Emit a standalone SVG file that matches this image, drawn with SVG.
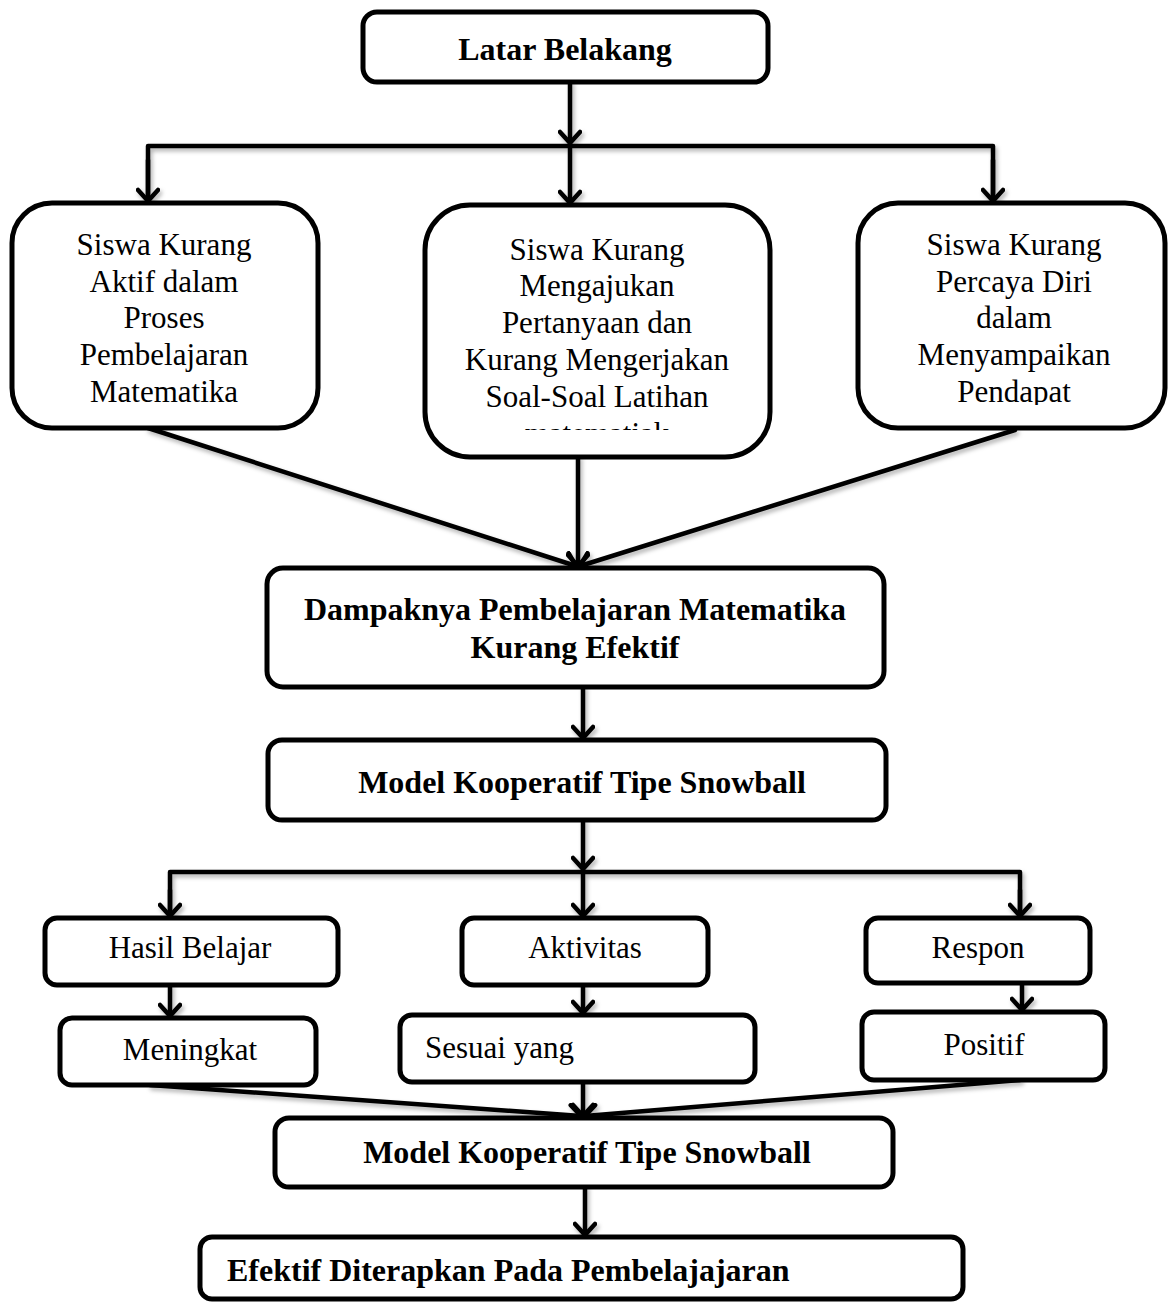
<svg xmlns="http://www.w3.org/2000/svg" width="1168" height="1302" viewBox="0 0 1168 1302">
<defs>
<style>
.box{fill:#fff;stroke:#000;stroke-width:5}
.t{font-family:"Liberation Serif","Times New Roman",serif;font-size:31px;fill:#000;text-anchor:middle}
.b{font-family:"Liberation Serif","Times New Roman",serif;font-size:32px;font-weight:bold;fill:#000;text-anchor:middle}
.s{text-anchor:start}
.c{fill:none;stroke:#000;stroke-width:4.5;stroke-linecap:round;stroke-linejoin:round}
</style>
<marker id="ah" viewBox="-14 -12 16 24" markerWidth="16" markerHeight="24" refX="0" refY="0" orient="auto" markerUnits="userSpaceOnUse">
<path d="M-11,-10 L0,0 L-11,10" fill="none" stroke="#000" stroke-width="4.5" stroke-linecap="round" stroke-linejoin="round"/>
</marker>
<filter id="sh" x="-5%" y="-5%" width="110%" height="110%">
<feDropShadow dx="2" dy="3" stdDeviation="2" flood-color="#000" flood-opacity="0.3"/>
</filter>
<clipPath id="clipC"><rect x="425" y="205" width="345" height="225"/></clipPath>
<clipPath id="clipR"><rect x="858" y="203" width="307" height="202"/></clipPath>
</defs>
<rect width="1168" height="1302" fill="#fff"/>

<g id="connectors" filter="url(#sh)">
<path class="c" d="M570,82 V143" marker-end="url(#ah)"/>
<path class="c" d="M148,201 V146 H993 V201"/>
<path class="c" d="M148,160 V201" marker-end="url(#ah)"/>
<path class="c" d="M570,146 V203" marker-end="url(#ah)"/>
<path class="c" d="M993,160 V201" marker-end="url(#ah)"/>
<path class="c" d="M148,428 L576,566" marker-end="url(#ah)"/>
<path class="c" d="M578,457 L578,566" marker-end="url(#ah)"/>
<path class="c" d="M1015,430 L580,566" marker-end="url(#ah)"/>
<path class="c" d="M583,687 V738" marker-end="url(#ah)"/>
<path class="c" d="M583,820 V869" marker-end="url(#ah)"/>
<path class="c" d="M170,916 V872 H1020 V916"/>
<path class="c" d="M170,890 V916" marker-end="url(#ah)"/>
<path class="c" d="M583,872 V916" marker-end="url(#ah)"/>
<path class="c" d="M1020,890 V916" marker-end="url(#ah)"/>
<path class="c" d="M170,985 V1016" marker-end="url(#ah)"/>
<path class="c" d="M583,985 V1013" marker-end="url(#ah)"/>
<path class="c" d="M1022,983 V1010" marker-end="url(#ah)"/>
<path class="c" d="M150,1085 L581,1116" marker-end="url(#ah)"/>
<path class="c" d="M583,1082 L583,1116" marker-end="url(#ah)"/>
<path class="c" d="M1020,1080 L585,1116" marker-end="url(#ah)"/>
<path class="c" d="M585,1187 V1235" marker-end="url(#ah)"/>
</g>

<g id="latar">
<rect class="box" x="363" y="12" width="405" height="70" rx="14"/>
<text class="b" x="565" y="60">Latar Belakang</text>
</g>

<g id="siswa-aktif">
<rect class="box" x="12" y="203" width="306" height="225" rx="40"/>
<text class="t" x="164"><tspan x="164" y="255">Siswa Kurang</tspan><tspan x="164" y="292">Aktif dalam</tspan><tspan x="164" y="328">Proses</tspan><tspan x="164" y="365">Pembelajaran</tspan><tspan x="164" y="402">Matematika</tspan></text>
</g>

<g id="siswa-bertanya">
<rect class="box" x="425" y="205" width="345" height="252" rx="45"/>
<text class="t" x="597" clip-path="url(#clipC)"><tspan x="597" y="260">Siswa Kurang</tspan><tspan x="597" y="296">Mengajukan</tspan><tspan x="597" y="333">Pertanyaan dan</tspan><tspan x="597" y="370">Kurang Mengerjakan</tspan><tspan x="597" y="407">Soal-Soal Latihan</tspan><tspan x="597" y="444">matematiak</tspan></text>
</g>

<g id="siswa-percaya">
<rect class="box" x="858" y="203" width="307" height="225" rx="40"/>
<text class="t" x="1014" clip-path="url(#clipR)"><tspan x="1014" y="255">Siswa Kurang</tspan><tspan x="1014" y="292">Percaya Diri</tspan><tspan x="1014" y="328">dalam</tspan><tspan x="1014" y="365">Menyampaikan</tspan><tspan x="1014" y="402">Pendapat</tspan></text>
</g>

<g id="dampak">
<rect class="box" x="267" y="568" width="617" height="119" rx="16"/>
<text class="b" x="575"><tspan x="575" y="620">Dampaknya Pembelajaran Matematika</tspan><tspan x="575" y="658">Kurang Efektif</tspan></text>
</g>

<g id="model1">
<rect class="box" x="268" y="740" width="618" height="80" rx="14"/>
<text class="b" x="582" y="793">Model Kooperatif Tipe Snowball</text>
</g>

<g id="hasil">
<rect class="box" x="45" y="918" width="293" height="67" rx="12"/>
<text class="t" x="190" y="958">Hasil Belajar</text>
</g>

<g id="aktivitas">
<rect class="box" x="462" y="918" width="246" height="67" rx="12"/>
<text class="t" x="585" y="958">Aktivitas</text>
</g>

<g id="respon">
<rect class="box" x="866" y="918" width="224" height="65" rx="12"/>
<text class="t" x="978" y="958">Respon</text>
</g>

<g id="meningkat">
<rect class="box" x="60" y="1018" width="256" height="67" rx="12"/>
<text class="t" x="190" y="1060">Meningkat</text>
</g>

<g id="sesuai">
<rect class="box" x="400" y="1015" width="355" height="67" rx="12"/>
<text class="t s" x="425" y="1058">Sesuai yang</text>
</g>

<g id="positif">
<rect class="box" x="862" y="1012" width="243" height="68" rx="12"/>
<text class="t" x="984" y="1055">Positif</text>
</g>

<g id="model2">
<rect class="box" x="275" y="1118" width="618" height="69" rx="14"/>
<text class="b" x="587" y="1163">Model Kooperatif Tipe Snowball</text>
</g>

<g id="efektif">
<rect class="box" x="200" y="1237" width="763" height="62" rx="12"/>
<text class="b s" x="227" y="1281">Efektif Diterapkan Pada Pembelajajaran</text>
</g>
</svg>
